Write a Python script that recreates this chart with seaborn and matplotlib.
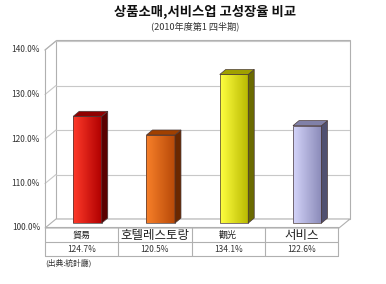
import numpy as np
import pandas as pd
import matplotlib
matplotlib.use("Agg")
import matplotlib.pyplot as plt
import seaborn as sns
from matplotlib.patches import Polygon, Rectangle
from matplotlib.colors import LinearSegmentedColormap

# ---- data ----
categories = ["貿易", "호텔레스토랑", "觀光", "서비스"]
values = [124.7, 120.5, 134.1, 122.6]
value_labels = ["124.7%", "120.5%", "134.1%", "122.6%"]
yticks = [100, 110, 120, 130, 140]
ytick_labels = ["100.0%", "110.0%", "120.0%", "130.0%", "140.0%"]
title = "상품소매,서비스업 고성장율 비교"
subtitle = "(2010年度第1 四半期)"
source = "(出典:統計廳)"

sns.set_theme(style="white")
plt.rcParams['font.family'] = ['Noto Sans CJK KR', 'DejaVu Sans']

W, H = 386, 284
fig = plt.figure(figsize=(W / 100, H / 100), dpi=100)
fig.patch.set_facecolor("white")

def fx(px):
    return px / W

def fy(py):
    return 1 - py / H

# axes: front-left at px 45, right edge at 350; bottom 228 (100%), top 40
ax_l, ax_r, ax_b, ax_t = 45, 350, 228, 40
ax = fig.add_axes([fx(ax_l), fy(ax_b), (ax_r - ax_l) / W, (ax_b - ax_t) / H])
ax.set_facecolor("none")

px_per_cat = 73.25
px_per_pct = 4.45
x_left = -0.58
x_right = x_left + (ax_r - ax_l) / px_per_cat
y_top = 100 + (ax_b - ax_t) / px_per_pct

# bars first (seaborn)
df = pd.DataFrame({"cat": categories, "val": values})
bar_w = 28.5 / px_per_cat
sns.barplot(data=df, x="cat", y="val", ax=ax, width=bar_w, color="red",
            saturation=1, zorder=2)
bars = list(ax.containers[0])
ax.set_xlim(x_left, x_right)
ax.set_ylim(100, y_top)
ax.axis("off")

dx = 11 / px_per_cat
dy = 9 / px_per_pct
wall_col = "#b0b0b0"
grid_col = "#c8c8c8"

# back wall
ax.add_patch(Rectangle((x_left + dx, 100 + dy), x_right - x_left - dx, y_top - 100 - dy,
                       facecolor="white", edgecolor=wall_col, lw=0.8, clip_on=False, zorder=0))
# floor
ax.add_patch(Polygon([(x_left, 100), (x_left + dx, 100 + dy), (x_right, 100 + dy),
                      (x_right - dx, 100)], closed=True, facecolor="white",
                     edgecolor=wall_col, lw=0.8, clip_on=False, zorder=0.5))
# left side wall
ax.plot([x_left, x_left], [100, 140], color=wall_col, lw=0.8, clip_on=False, zorder=0.6)
ax.plot([x_left, x_left + dx], [140, 140 + dy], color=wall_col, lw=0.8, clip_on=False, zorder=0.6)
for v in yticks[1:]:
    ax.plot([x_left + dx, x_right], [v + dy, v + dy], color=grid_col, lw=0.8, zorder=0.4)
    ax.plot([x_left, x_left + dx], [v, v + dy], color=grid_col, lw=0.8, clip_on=False, zorder=0.4)

# y tick labels
for v, lab in zip(yticks, ytick_labels):
    ax.text(x_left - 5 / px_per_cat, v, lab, ha="right", va="center",
            fontsize=6, color="#333333", clip_on=False)

front = [("#ff3a2a", "#b00000", "#5a0000", "#900000"),
         ("#f8802a", "#b84a08", "#6a2800", "#a04000"),
         ("#ffff40", "#b8b800", "#6a6a00", "#a0a000"),
         ("#d4d4fa", "#8a8ab8", "#505070", "#8080a8")]
sx = 6 / px_per_cat
sy = 5 / px_per_pct
base = 100 + 1.1
for p, v, (c1, c2, cs, ct) in zip(bars, values, front):
    top = v + 0.4
    p.set_y(base)
    p.set_height(top - base)
    p.set_facecolor("none")
    p.set_edgecolor("#4a3a3a")
    p.set_linewidth(0.5)
    xl = p.get_x()
    xr = xl + p.get_width()
    cmap = LinearSegmentedColormap.from_list("g", [c1, c2])
    grad = np.linspace(0, 1, 64).reshape(1, -1)
    im = ax.imshow(grad, cmap=cmap, extent=[xl, xr, base, top], aspect="auto",
                   zorder=1.9, interpolation="bilinear")
    im.set_clip_path(p)
    ax.add_patch(Polygon([(xr, base), (xr + sx, base + sy), (xr + sx, top + sy), (xr, top)],
                         closed=True, facecolor=cs, edgecolor="#4a3a3a", lw=0.5, zorder=2.1))
    ax.add_patch(Polygon([(xl, top), (xl + sx, top + sy), (xr + sx, top + sy), (xr, top)],
                         closed=True, facecolor=ct, edgecolor="#4a3a3a", lw=0.5, zorder=2.1))
ax.set_xlim(x_left, x_right)
ax.set_ylim(100, y_top)

# data table (figure coords)
tab_l, tab_r = 45, 338
tab_top, tab_mid, tab_bot = 227, 242, 256
tcol = "#b0b0b0"
for yy in (tab_top, tab_mid, tab_bot):
    fig.add_artist(plt.Line2D([fx(tab_l), fx(tab_r)], [fy(yy), fy(yy)], color=tcol, lw=0.8))
col_w = (tab_r - tab_l) / len(categories)
for i in range(len(categories) + 1):
    xx = tab_l + i * col_w
    fig.add_artist(plt.Line2D([fx(xx), fx(xx)], [fy(tab_top), fy(tab_bot)], color=tcol, lw=0.8))
cat_sizes = [6.5, 9, 6.5, 9]
for i, (c, vl) in enumerate(zip(categories, value_labels)):
    cx = tab_l + (i + 0.5) * col_w
    fig.text(fx(cx), fy((tab_top + tab_mid) / 2 + 0.5), c, ha="center", va="center",
             fontsize=cat_sizes[i], color="#222222")
    fig.text(fx(cx), fy((tab_mid + tab_bot) / 2), vl, ha="center", va="center",
             fontsize=6, color="#333333")

fig.text(fx(45), fy(263), source, ha="left", va="center", fontsize=5.6, color="#333333")
fig.text(fx(205), fy(12), title, ha="center", va="center", fontsize=9.6,
         fontweight="bold", color="#111111")
fig.text(fx(195), fy(26), subtitle, ha="center", va="center", fontsize=6.6, color="#333333")

fig.savefig("out.png", dpi=100, facecolor="white")
